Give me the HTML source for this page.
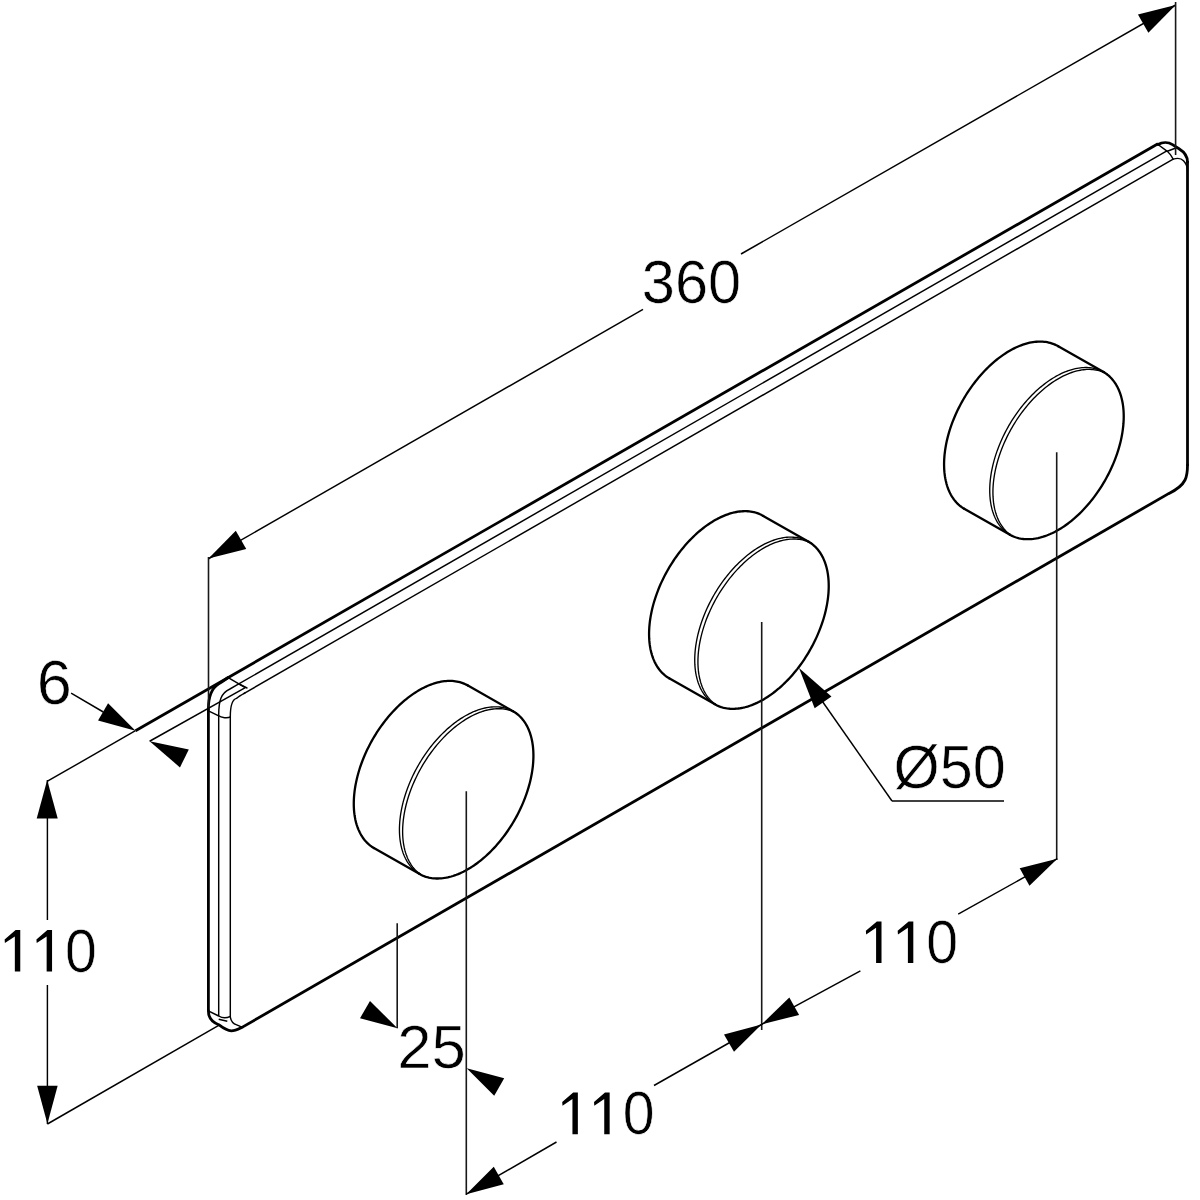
<!DOCTYPE html>
<html><head><meta charset="utf-8"><style>
html,body{margin:0;padding:0;background:#fff;}
svg{display:block;}
text{font-family:"Liberation Sans",sans-serif;fill:#000;}
</style></head><body>
<svg width="1200" height="1200" viewBox="0 0 1200 1200">
<rect width="1200" height="1200" fill="#fff"/>
<line x1="47.5" y1="781.23" x2="135.5" y2="730.72" stroke="#000" stroke-width="1.45"/>
<line x1="135.5" y1="730.72" x2="1158" y2="143.81" stroke="#000" stroke-width="2.8"/>
<line x1="237.9" y1="684.41" x2="1167.3" y2="150.66" stroke="#000" stroke-width="1.45"/>
<line x1="243.3" y1="693.85" x2="1173.2" y2="159.16" stroke="#000" stroke-width="1.45"/>
<line x1="208.4" y1="709" x2="208.4" y2="1011" stroke="#000" stroke-width="2.8"/>
<line x1="218.7" y1="715.3" x2="218.7" y2="1016" stroke="#000" stroke-width="1.45"/>
<line x1="230.3" y1="716.9" x2="230.3" y2="1017.2" stroke="#000" stroke-width="1.45"/>
<line x1="242" y1="1027.35" x2="1169" y2="493.4" stroke="#000" stroke-width="2.8"/>
<line x1="1187.5" y1="161" x2="1187.5" y2="466" stroke="#000" stroke-width="2.8"/>
<path d="M208.4,709 C208.4,697 212,688 218.7,683.9 C221.5,682 224,680.5 228.2,677.51" fill="none" stroke="#000" stroke-width="2.8" stroke-linecap="round"/>
<path d="M218.7,715.3 C218.7,701 221,693 229.5,689.24 L237.9,684.41" fill="none" stroke="#000" stroke-width="1.45" stroke-linecap="round"/>
<path d="M230.3,716.9 C230.3,707 232,699.5 236.5,698.36 C239,696.33 241,695.17 245,692.88" fill="none" stroke="#000" stroke-width="1.45" stroke-linecap="round"/>
<line x1="228.2" y1="677.51" x2="245.3" y2="687.6" stroke="#000" stroke-width="1.45"/>
<path d="M208.4,710.9 L218.7,715.8 C221,717.8 228,718.4 230.3,716.9" fill="none" stroke="#000" stroke-width="1.45" stroke-linecap="round"/>
<path d="M240,684.5 L247,688" fill="none" stroke="#000" stroke-width="1.45" stroke-linecap="round"/>
<path d="M1158,144.5 C1162,142.2 1168,141.6 1172.5,144.6 L1179,148.8 C1184.5,152.2 1187.5,156 1187.5,162" fill="none" stroke="#000" stroke-width="2.8" stroke-linecap="round"/>
<path d="M1158,144.5 L1167.3,151.3 C1170,153.5 1172,157 1173.2,159.16" fill="none" stroke="#000" stroke-width="1.45" stroke-linecap="round"/>
<line x1="1167.3" y1="151.2" x2="1176.5" y2="147.8" stroke="#000" stroke-width="1.45"/>
<path d="M1173.2,159.16 C1176,158.3 1181,158 1183.5,160.8 C1186,163.5 1187.5,166 1187.5,170" fill="none" stroke="#000" stroke-width="1.45" stroke-linecap="round"/>
<path d="M1169,493.4 C1177,489.5 1182,486 1185,480 C1187,476 1187.5,471 1187.5,465" fill="none" stroke="#000" stroke-width="2.8" stroke-linecap="round"/>
<path d="M208.4,1011 C208.4,1017 211.5,1022 218.7,1024.7 C223,1028 227,1030.8 231.3,1030.8 C235,1030.8 238.5,1029 242,1027.35" fill="none" stroke="#000" stroke-width="2.8" stroke-linecap="round"/>
<path d="M209.3,1011.3 L218.7,1016 C222,1018 227,1018 230.3,1016.3" fill="none" stroke="#000" stroke-width="1.45" stroke-linecap="round"/>
<path d="M230.3,1017.2 C231,1021 233.5,1024 236.7,1024.9 C238.5,1025.5 240,1026 242,1027.35" fill="none" stroke="#000" stroke-width="1.45" stroke-linecap="round"/>
<line x1="218.7" y1="1019.3" x2="227.3" y2="1021.3" stroke="#000" stroke-width="1.45"/>
<path d="M467.93,685.58 L466.66,684.87 L465.36,684.22 L464.02,683.63 L462.66,683.09 L461.27,682.61 L459.85,682.19 L458.41,681.83 L456.94,681.52 L455.45,681.28 L453.93,681.09 L452.39,680.96 L450.82,680.89 L449.24,680.88 L447.64,680.93 L446.02,681.03 L444.38,681.2 L442.73,681.42 L441.06,681.7 L439.37,682.04 L437.68,682.44 L435.97,682.9 L434.25,683.41 L432.53,683.99 L430.79,684.61 L429.05,685.3 L427.3,686.04 L425.55,686.83 L423.8,687.68 L422.04,688.59 L420.28,689.55 L418.53,690.56 L416.77,691.62 L415.02,692.74 L413.27,693.9 L411.53,695.12 L409.79,696.38 L408.06,697.69 L406.34,699.05 L404.63,700.46 L402.93,701.91 L401.25,703.41 L399.57,704.95 L397.91,706.53 L396.27,708.16 L394.64,709.82 L393.04,711.52 L391.45,713.26 L389.88,715.04 L388.33,716.86 L386.81,718.7 L385.3,720.58 L383.83,722.5 L382.37,724.44 L380.95,726.41 L379.55,728.41 L378.18,730.43 L376.84,732.48 L375.53,734.56 L374.25,736.65 L373,738.77 L371.79,740.91 L370.61,743.06 L369.46,745.23 L368.35,747.41 L367.27,749.61 L366.23,751.82 L365.23,754.04 L364.27,756.27 L363.35,758.51 L362.46,760.75 L361.62,762.99 L360.81,765.24 L360.05,767.49 L359.33,769.74 L358.65,771.99 L358.02,774.23 L357.42,776.47 L356.87,778.7 L356.37,780.92 L355.91,783.14 L355.49,785.34 L355.12,787.53 L354.79,789.7 L354.51,791.86 L354.27,794.01 L354.08,796.13 L353.94,798.24 L353.84,800.32 L353.78,802.38 L353.78,804.41 L353.82,806.42 L353.9,808.4 L354.03,810.36 L354.21,812.28 L354.43,814.17 L354.7,816.04 L355.01,817.86 L355.37,819.65 L355.78,821.41 L356.22,823.13 L356.72,824.81 L357.25,826.44 L357.83,828.04 L358.46,829.6 L359.12,831.11 L359.83,832.58 L360.58,834.01 L361.37,835.39 L362.21,836.72 L363.08,838 L363.99,839.24 L364.94,840.42 L365.93,841.55 L366.96,842.64 L368.02,843.67 L369.12,844.65 L370.26,845.57 L371.43,846.44 L372.64,847.26 L373.87,848.02" fill="none" stroke="#000" stroke-width="2.3" stroke-linejoin="round" stroke-linecap="round"/>
<path d="M467.93,685.58 L513.33,711.38" fill="none" stroke="#000" stroke-width="2.3" stroke-linejoin="round" stroke-linecap="round"/>
<path d="M373.87,848.02 L419.27,873.82" fill="none" stroke="#000" stroke-width="2.3" stroke-linejoin="round" stroke-linecap="round"/>
<path d="M513.33,711.38 L514.56,712.14 L515.77,712.96 L516.94,713.83 L518.08,714.75 L519.18,715.73 L520.24,716.76 L521.27,717.85 L522.26,718.98 L523.21,720.16 L524.12,721.4 L524.99,722.68 L525.83,724.01 L526.62,725.39 L527.37,726.82 L528.08,728.29 L528.74,729.8 L529.37,731.36 L529.95,732.96 L530.48,734.59 L530.98,736.27 L531.42,737.99 L531.83,739.75 L532.19,741.54 L532.5,743.36 L532.77,745.23 L532.99,747.12 L533.17,749.04 L533.3,751 L533.38,752.98 L533.42,754.99 L533.42,757.02 L533.36,759.08 L533.26,761.16 L533.12,763.27 L532.93,765.39 L532.69,767.54 L532.41,769.7 L532.08,771.87 L531.71,774.06 L531.29,776.26 L530.83,778.48 L530.33,780.7 L529.78,782.93 L529.18,785.17 L528.55,787.41 L527.87,789.66 L527.15,791.91 L526.39,794.16 L525.58,796.41 L524.74,798.65 L523.85,800.89 L522.93,803.13 L521.97,805.36 L520.97,807.58 L519.93,809.79 L518.85,811.99 L517.74,814.17 L516.59,816.34 L515.41,818.49 L514.2,820.63 L512.95,822.75 L511.67,824.84 L510.36,826.92 L509.02,828.97 L507.65,830.99 L506.25,832.99 L504.83,834.96 L503.37,836.9 L501.9,838.82 L500.39,840.7 L498.87,842.54 L497.32,844.36 L495.75,846.14 L494.16,847.88 L492.56,849.58 L490.93,851.24 L489.29,852.87 L487.63,854.45 L485.95,855.99 L484.27,857.49 L482.57,858.94 L480.86,860.35 L479.14,861.71 L477.41,863.02 L475.67,864.28 L473.93,865.5 L472.18,866.66 L470.43,867.78 L468.67,868.84 L466.92,869.85 L465.16,870.81 L463.4,871.72 L461.65,872.57 L459.9,873.36 L458.15,874.1 L456.41,874.79 L454.67,875.41 L452.95,875.99 L451.23,876.5 L449.52,876.96 L447.83,877.36 L446.14,877.7 L444.47,877.98 L442.82,878.2 L441.18,878.37 L439.56,878.47 L437.96,878.52 L436.38,878.51 L434.81,878.44 L433.27,878.31 L431.75,878.12 L430.26,877.88 L428.79,877.57 L427.35,877.21 L425.93,876.79 L424.54,876.31 L423.18,875.77 L421.84,875.18 L420.54,874.53 L419.27,873.82" fill="none" stroke="#000" stroke-width="2.3" stroke-linejoin="round" stroke-linecap="round"/>
<path d="M516.78,713.4 L515.51,712.69 L514.21,712.04 L512.88,711.45 L511.51,710.91 L510.12,710.43 L508.71,710.01 L507.26,709.65 L505.79,709.34 L504.3,709.1 L502.78,708.91 L501.24,708.78 L499.68,708.71 L498.09,708.7 L496.49,708.75 L494.87,708.85 L493.23,709.02 L491.58,709.24 L489.91,709.52 L488.23,709.87 L486.53,710.26 L484.82,710.72 L483.11,711.23 L481.38,711.81 L479.64,712.43 L477.9,713.12 L476.16,713.86 L474.4,714.65 L472.65,715.5 L470.89,716.41 L469.14,717.37 L467.38,718.38 L465.62,719.44 L463.87,720.56 L462.12,721.72 L460.38,722.94 L458.64,724.2 L456.91,725.51 L455.19,726.87 L453.48,728.28 L451.78,729.73 L450.1,731.23 L448.42,732.77 L446.77,734.35 L445.12,735.98 L443.5,737.64 L441.89,739.34 L440.3,741.09 L438.73,742.86 L437.18,744.68 L435.66,746.52 L434.16,748.4 L432.68,750.32 L431.23,752.26 L429.8,754.23 L428.4,756.23 L427.03,758.25 L425.69,760.3 L424.38,762.38 L423.1,764.47 L421.85,766.59 L420.64,768.73 L419.46,770.88 L418.31,773.05 L417.2,775.23 L416.13,777.43 L415.09,779.64 L414.09,781.86 L413.12,784.09 L412.2,786.33 L411.31,788.57 L410.47,790.81 L409.67,793.06 L408.9,795.31 L408.18,797.56 L407.5,799.81 L406.87,802.05 L406.27,804.29 L405.72,806.52 L405.22,808.74 L404.76,810.96 L404.34,813.16 L403.97,815.35 L403.64,817.53 L403.36,819.69 L403.12,821.83 L402.93,823.95 L402.79,826.06 L402.69,828.14 L402.64,830.2 L402.63,832.23 L402.67,834.24 L402.75,836.22 L402.89,838.18 L403.06,840.1 L403.28,842 L403.55,843.86 L403.87,845.68 L404.22,847.47 L404.63,849.23 L405.08,850.95 L405.57,852.63 L406.11,854.27 L406.69,855.86 L407.31,857.42 L407.98,858.93 L408.68,860.4 L409.43,861.83 L410.23,863.21 L411.06,864.54 L411.93,865.82 L412.84,867.06 L413.79,868.24 L414.78,869.38 L415.81,870.46 L416.88,871.49 L417.98,872.47 L419.11,873.39 L420.28,874.27 L421.49,875.08 L422.73,875.84" fill="none" stroke="#000" stroke-width="1.35" stroke-linejoin="round" stroke-linecap="round"/>
<path d="M513.59,711.53 L512.32,710.82 L511.01,710.17 L509.68,709.58 L508.32,709.04 L506.93,708.56 L505.51,708.14 L504.07,707.78 L502.6,707.48 L501.1,707.23 L499.59,707.04 L498.05,706.91 L496.48,706.84 L494.9,706.83 L493.3,706.88 L491.68,706.98 L490.04,707.15 L488.38,707.37 L486.71,707.66 L485.03,708 L483.34,708.4 L481.63,708.85 L479.91,709.37 L478.19,709.94 L476.45,710.56 L474.71,711.25 L472.96,711.99 L471.21,712.78 L469.46,713.64 L467.7,714.54 L465.94,715.5 L464.19,716.51 L462.43,717.57 L460.68,718.69 L458.93,719.85 L457.19,721.07 L455.45,722.33 L453.72,723.65 L452,725.01 L450.29,726.41 L448.59,727.87 L446.9,729.36 L445.23,730.9 L443.57,732.48 L441.93,734.11 L440.3,735.77 L438.69,737.48 L437.11,739.22 L435.54,740.99 L433.99,742.81 L432.46,744.65 L430.96,746.53 L429.48,748.45 L428.03,750.39 L426.61,752.36 L425.21,754.36 L423.84,756.38 L422.5,758.44 L421.19,760.51 L419.91,762.6 L418.66,764.72 L417.45,766.86 L416.27,769.01 L415.12,771.18 L414.01,773.37 L412.93,775.56 L411.89,777.77 L410.89,779.99 L409.93,782.22 L409.01,784.46 L408.12,786.7 L407.28,788.94 L406.47,791.19 L405.71,793.44 L404.99,795.69 L404.31,797.94 L403.67,800.18 L403.08,802.42 L402.53,804.65 L402.03,806.87 L401.56,809.09 L401.15,811.29 L400.78,813.48 L400.45,815.66 L400.17,817.82 L399.93,819.96 L399.74,822.08 L399.6,824.19 L399.5,826.27 L399.44,828.33 L399.44,830.36 L399.48,832.37 L399.56,834.36 L399.69,836.31 L399.87,838.23 L400.09,840.13 L400.36,841.99 L400.67,843.81 L401.03,845.6 L401.44,847.36 L401.88,849.08 L402.38,850.76 L402.91,852.4 L403.49,854 L404.12,855.55 L404.78,857.07 L405.49,858.53 L406.24,859.96 L407.03,861.34 L407.86,862.67 L408.74,863.95 L409.65,865.19 L410.6,866.37 L411.59,867.51 L412.62,868.59 L413.68,869.62 L414.78,870.6 L415.92,871.53 L417.09,872.4 L418.29,873.21 L419.53,873.97" fill="none" stroke="#000" stroke-width="1.35" stroke-linejoin="round" stroke-linecap="round"/>
<path d="M763.23,515.88 L761.96,515.17 L760.66,514.52 L759.32,513.93 L757.96,513.39 L756.57,512.91 L755.15,512.49 L753.71,512.13 L752.24,511.82 L750.75,511.58 L749.23,511.39 L747.69,511.26 L746.12,511.19 L744.54,511.18 L742.94,511.23 L741.32,511.33 L739.68,511.5 L738.03,511.72 L736.36,512 L734.67,512.34 L732.98,512.74 L731.27,513.2 L729.55,513.71 L727.83,514.29 L726.09,514.91 L724.35,515.6 L722.6,516.34 L720.85,517.13 L719.1,517.98 L717.34,518.89 L715.58,519.85 L713.83,520.86 L712.07,521.92 L710.32,523.04 L708.57,524.2 L706.83,525.42 L705.09,526.68 L703.36,527.99 L701.64,529.35 L699.93,530.76 L698.23,532.21 L696.55,533.71 L694.87,535.25 L693.21,536.83 L691.57,538.46 L689.94,540.12 L688.34,541.82 L686.75,543.56 L685.18,545.34 L683.63,547.16 L682.11,549 L680.6,550.88 L679.13,552.8 L677.67,554.74 L676.25,556.71 L674.85,558.71 L673.48,560.73 L672.14,562.78 L670.83,564.86 L669.55,566.95 L668.3,569.07 L667.09,571.21 L665.91,573.36 L664.76,575.53 L663.65,577.71 L662.57,579.91 L661.53,582.12 L660.53,584.34 L659.57,586.57 L658.65,588.81 L657.76,591.05 L656.92,593.29 L656.11,595.54 L655.35,597.79 L654.63,600.04 L653.95,602.29 L653.32,604.53 L652.72,606.77 L652.17,609 L651.67,611.22 L651.21,613.44 L650.79,615.64 L650.42,617.83 L650.09,620 L649.81,622.16 L649.57,624.31 L649.38,626.43 L649.24,628.54 L649.14,630.62 L649.08,632.68 L649.08,634.71 L649.12,636.72 L649.2,638.7 L649.33,640.66 L649.51,642.58 L649.73,644.47 L650,646.34 L650.31,648.16 L650.67,649.95 L651.08,651.71 L651.52,653.43 L652.02,655.11 L652.55,656.74 L653.13,658.34 L653.76,659.9 L654.42,661.41 L655.13,662.88 L655.88,664.31 L656.67,665.69 L657.51,667.02 L658.38,668.3 L659.29,669.54 L660.24,670.72 L661.23,671.85 L662.26,672.94 L663.32,673.97 L664.42,674.95 L665.56,675.87 L666.73,676.74 L667.94,677.56 L669.17,678.32" fill="none" stroke="#000" stroke-width="2.3" stroke-linejoin="round" stroke-linecap="round"/>
<path d="M763.23,515.88 L808.63,541.68" fill="none" stroke="#000" stroke-width="2.3" stroke-linejoin="round" stroke-linecap="round"/>
<path d="M669.17,678.32 L714.57,704.12" fill="none" stroke="#000" stroke-width="2.3" stroke-linejoin="round" stroke-linecap="round"/>
<path d="M808.63,541.68 L809.86,542.44 L811.07,543.26 L812.24,544.13 L813.38,545.05 L814.48,546.03 L815.54,547.06 L816.57,548.15 L817.56,549.28 L818.51,550.46 L819.42,551.7 L820.29,552.98 L821.13,554.31 L821.92,555.69 L822.67,557.12 L823.38,558.59 L824.04,560.1 L824.67,561.66 L825.25,563.26 L825.78,564.89 L826.28,566.57 L826.72,568.29 L827.13,570.05 L827.49,571.84 L827.8,573.66 L828.07,575.53 L828.29,577.42 L828.47,579.34 L828.6,581.3 L828.68,583.28 L828.72,585.29 L828.72,587.32 L828.66,589.38 L828.56,591.46 L828.42,593.57 L828.23,595.69 L827.99,597.84 L827.71,600 L827.38,602.17 L827.01,604.36 L826.59,606.56 L826.13,608.78 L825.63,611 L825.08,613.23 L824.48,615.47 L823.85,617.71 L823.17,619.96 L822.45,622.21 L821.69,624.46 L820.88,626.71 L820.04,628.95 L819.15,631.19 L818.23,633.43 L817.27,635.66 L816.27,637.88 L815.23,640.09 L814.15,642.29 L813.04,644.47 L811.89,646.64 L810.71,648.79 L809.5,650.93 L808.25,653.05 L806.97,655.14 L805.66,657.22 L804.32,659.27 L802.95,661.29 L801.55,663.29 L800.13,665.26 L798.67,667.2 L797.2,669.12 L795.69,671 L794.17,672.84 L792.62,674.66 L791.05,676.44 L789.46,678.18 L787.86,679.88 L786.23,681.54 L784.59,683.17 L782.93,684.75 L781.25,686.29 L779.57,687.79 L777.87,689.24 L776.16,690.65 L774.44,692.01 L772.71,693.32 L770.97,694.58 L769.23,695.8 L767.48,696.96 L765.73,698.08 L763.97,699.14 L762.22,700.15 L760.46,701.11 L758.7,702.02 L756.95,702.87 L755.2,703.66 L753.45,704.4 L751.71,705.09 L749.97,705.71 L748.25,706.29 L746.53,706.8 L744.82,707.26 L743.13,707.66 L741.44,708 L739.77,708.28 L738.12,708.5 L736.48,708.67 L734.86,708.77 L733.26,708.82 L731.68,708.81 L730.11,708.74 L728.57,708.61 L727.05,708.42 L725.56,708.18 L724.09,707.87 L722.65,707.51 L721.23,707.09 L719.84,706.61 L718.48,706.07 L717.14,705.48 L715.84,704.83 L714.57,704.12" fill="none" stroke="#000" stroke-width="2.3" stroke-linejoin="round" stroke-linecap="round"/>
<path d="M812.08,543.7 L810.81,542.99 L809.51,542.34 L808.18,541.75 L806.81,541.21 L805.42,540.73 L804.01,540.31 L802.56,539.95 L801.09,539.64 L799.6,539.4 L798.08,539.21 L796.54,539.08 L794.98,539.01 L793.39,539 L791.79,539.05 L790.17,539.15 L788.53,539.32 L786.88,539.54 L785.21,539.82 L783.53,540.17 L781.83,540.56 L780.12,541.02 L778.41,541.53 L776.68,542.11 L774.94,542.73 L773.2,543.42 L771.46,544.16 L769.7,544.95 L767.95,545.8 L766.19,546.71 L764.44,547.67 L762.68,548.68 L760.92,549.74 L759.17,550.86 L757.42,552.02 L755.68,553.24 L753.94,554.5 L752.21,555.81 L750.49,557.17 L748.78,558.58 L747.08,560.03 L745.4,561.53 L743.72,563.07 L742.07,564.65 L740.42,566.28 L738.8,567.94 L737.19,569.64 L735.6,571.39 L734.03,573.16 L732.48,574.98 L730.96,576.82 L729.46,578.7 L727.98,580.62 L726.53,582.56 L725.1,584.53 L723.7,586.53 L722.33,588.55 L720.99,590.6 L719.68,592.68 L718.4,594.77 L717.15,596.89 L715.94,599.03 L714.76,601.18 L713.61,603.35 L712.5,605.53 L711.43,607.73 L710.39,609.94 L709.39,612.16 L708.42,614.39 L707.5,616.63 L706.61,618.87 L705.77,621.11 L704.97,623.36 L704.2,625.61 L703.48,627.86 L702.8,630.11 L702.17,632.35 L701.57,634.59 L701.02,636.82 L700.52,639.04 L700.06,641.26 L699.64,643.46 L699.27,645.65 L698.94,647.83 L698.66,649.99 L698.42,652.13 L698.23,654.25 L698.09,656.36 L697.99,658.44 L697.94,660.5 L697.93,662.53 L697.97,664.54 L698.05,666.52 L698.19,668.48 L698.36,670.4 L698.58,672.3 L698.85,674.16 L699.17,675.98 L699.52,677.77 L699.93,679.53 L700.38,681.25 L700.87,682.93 L701.41,684.57 L701.99,686.16 L702.61,687.72 L703.28,689.23 L703.98,690.7 L704.73,692.13 L705.53,693.51 L706.36,694.84 L707.23,696.12 L708.14,697.36 L709.09,698.54 L710.08,699.68 L711.11,700.76 L712.18,701.79 L713.28,702.77 L714.41,703.69 L715.58,704.57 L716.79,705.38 L718.03,706.14" fill="none" stroke="#000" stroke-width="1.35" stroke-linejoin="round" stroke-linecap="round"/>
<path d="M808.89,541.83 L807.62,541.12 L806.31,540.47 L804.98,539.88 L803.62,539.34 L802.23,538.86 L800.81,538.44 L799.37,538.08 L797.9,537.78 L796.4,537.53 L794.89,537.34 L793.35,537.21 L791.78,537.14 L790.2,537.13 L788.6,537.18 L786.98,537.28 L785.34,537.45 L783.68,537.67 L782.01,537.96 L780.33,538.3 L778.64,538.7 L776.93,539.15 L775.21,539.67 L773.49,540.24 L771.75,540.86 L770.01,541.55 L768.26,542.29 L766.51,543.08 L764.76,543.94 L763,544.84 L761.24,545.8 L759.49,546.81 L757.73,547.87 L755.98,548.99 L754.23,550.15 L752.49,551.37 L750.75,552.63 L749.02,553.95 L747.3,555.31 L745.59,556.71 L743.89,558.17 L742.2,559.66 L740.53,561.2 L738.87,562.78 L737.23,564.41 L735.6,566.07 L733.99,567.78 L732.41,569.52 L730.84,571.29 L729.29,573.11 L727.76,574.95 L726.26,576.83 L724.78,578.75 L723.33,580.69 L721.91,582.66 L720.51,584.66 L719.14,586.68 L717.8,588.74 L716.49,590.81 L715.21,592.9 L713.96,595.02 L712.75,597.16 L711.57,599.31 L710.42,601.48 L709.31,603.67 L708.23,605.86 L707.19,608.07 L706.19,610.29 L705.23,612.52 L704.31,614.76 L703.42,617 L702.58,619.24 L701.77,621.49 L701.01,623.74 L700.29,625.99 L699.61,628.24 L698.97,630.48 L698.38,632.72 L697.83,634.95 L697.33,637.17 L696.86,639.39 L696.45,641.59 L696.08,643.78 L695.75,645.96 L695.47,648.12 L695.23,650.26 L695.04,652.38 L694.9,654.49 L694.8,656.57 L694.74,658.63 L694.74,660.66 L694.78,662.67 L694.86,664.66 L694.99,666.61 L695.17,668.53 L695.39,670.43 L695.66,672.29 L695.97,674.11 L696.33,675.9 L696.74,677.66 L697.18,679.38 L697.68,681.06 L698.21,682.7 L698.79,684.3 L699.42,685.85 L700.08,687.37 L700.79,688.83 L701.54,690.26 L702.33,691.64 L703.16,692.97 L704.04,694.25 L704.95,695.49 L705.9,696.67 L706.89,697.81 L707.92,698.89 L708.98,699.92 L710.08,700.9 L711.22,701.83 L712.39,702.7 L713.59,703.51 L714.83,704.27" fill="none" stroke="#000" stroke-width="1.35" stroke-linejoin="round" stroke-linecap="round"/>
<path d="M1058.23,346.28 L1056.96,345.57 L1055.66,344.92 L1054.32,344.33 L1052.96,343.79 L1051.57,343.31 L1050.15,342.89 L1048.71,342.53 L1047.24,342.22 L1045.75,341.98 L1044.23,341.79 L1042.69,341.66 L1041.12,341.59 L1039.54,341.58 L1037.94,341.63 L1036.32,341.73 L1034.68,341.9 L1033.03,342.12 L1031.36,342.4 L1029.67,342.74 L1027.98,343.14 L1026.27,343.6 L1024.55,344.11 L1022.83,344.69 L1021.09,345.31 L1019.35,346 L1017.6,346.74 L1015.85,347.53 L1014.1,348.38 L1012.34,349.29 L1010.58,350.25 L1008.83,351.26 L1007.07,352.32 L1005.32,353.44 L1003.57,354.6 L1001.83,355.82 L1000.09,357.08 L998.36,358.39 L996.64,359.75 L994.93,361.16 L993.23,362.61 L991.55,364.11 L989.87,365.65 L988.21,367.23 L986.57,368.86 L984.94,370.52 L983.34,372.22 L981.75,373.96 L980.18,375.74 L978.63,377.56 L977.11,379.4 L975.6,381.28 L974.13,383.2 L972.67,385.14 L971.25,387.11 L969.85,389.11 L968.48,391.13 L967.14,393.18 L965.83,395.26 L964.55,397.35 L963.3,399.47 L962.09,401.61 L960.91,403.76 L959.76,405.93 L958.65,408.11 L957.57,410.31 L956.53,412.52 L955.53,414.74 L954.57,416.97 L953.65,419.21 L952.76,421.45 L951.92,423.69 L951.11,425.94 L950.35,428.19 L949.63,430.44 L948.95,432.69 L948.32,434.93 L947.72,437.17 L947.17,439.4 L946.67,441.62 L946.21,443.84 L945.79,446.04 L945.42,448.23 L945.09,450.4 L944.81,452.56 L944.57,454.71 L944.38,456.83 L944.24,458.94 L944.14,461.02 L944.08,463.08 L944.08,465.11 L944.12,467.12 L944.2,469.1 L944.33,471.06 L944.51,472.98 L944.73,474.87 L945,476.74 L945.31,478.56 L945.67,480.35 L946.08,482.11 L946.52,483.83 L947.02,485.51 L947.55,487.14 L948.13,488.74 L948.76,490.3 L949.42,491.81 L950.13,493.28 L950.88,494.71 L951.67,496.09 L952.51,497.42 L953.38,498.7 L954.29,499.94 L955.24,501.12 L956.23,502.25 L957.26,503.34 L958.32,504.37 L959.42,505.35 L960.56,506.27 L961.73,507.14 L962.94,507.96 L964.17,508.72" fill="none" stroke="#000" stroke-width="2.3" stroke-linejoin="round" stroke-linecap="round"/>
<path d="M1058.23,346.28 L1103.63,372.08" fill="none" stroke="#000" stroke-width="2.3" stroke-linejoin="round" stroke-linecap="round"/>
<path d="M964.17,508.72 L1009.57,534.52" fill="none" stroke="#000" stroke-width="2.3" stroke-linejoin="round" stroke-linecap="round"/>
<path d="M1103.63,372.08 L1104.86,372.84 L1106.07,373.66 L1107.24,374.53 L1108.38,375.45 L1109.48,376.43 L1110.54,377.46 L1111.57,378.55 L1112.56,379.68 L1113.51,380.86 L1114.42,382.1 L1115.29,383.38 L1116.13,384.71 L1116.92,386.09 L1117.67,387.52 L1118.38,388.99 L1119.04,390.5 L1119.67,392.06 L1120.25,393.66 L1120.78,395.29 L1121.28,396.97 L1121.72,398.69 L1122.13,400.45 L1122.49,402.24 L1122.8,404.06 L1123.07,405.93 L1123.29,407.82 L1123.47,409.74 L1123.6,411.7 L1123.68,413.68 L1123.72,415.69 L1123.72,417.72 L1123.66,419.78 L1123.56,421.86 L1123.42,423.97 L1123.23,426.09 L1122.99,428.24 L1122.71,430.4 L1122.38,432.57 L1122.01,434.76 L1121.59,436.96 L1121.13,439.18 L1120.63,441.4 L1120.08,443.63 L1119.48,445.87 L1118.85,448.11 L1118.17,450.36 L1117.45,452.61 L1116.69,454.86 L1115.88,457.11 L1115.04,459.35 L1114.15,461.59 L1113.23,463.83 L1112.27,466.06 L1111.27,468.28 L1110.23,470.49 L1109.15,472.69 L1108.04,474.87 L1106.89,477.04 L1105.71,479.19 L1104.5,481.33 L1103.25,483.45 L1101.97,485.54 L1100.66,487.62 L1099.32,489.67 L1097.95,491.69 L1096.55,493.69 L1095.13,495.66 L1093.67,497.6 L1092.2,499.52 L1090.69,501.4 L1089.17,503.24 L1087.62,505.06 L1086.05,506.84 L1084.46,508.58 L1082.86,510.28 L1081.23,511.94 L1079.59,513.57 L1077.93,515.15 L1076.25,516.69 L1074.57,518.19 L1072.87,519.64 L1071.16,521.05 L1069.44,522.41 L1067.71,523.72 L1065.97,524.98 L1064.23,526.2 L1062.48,527.36 L1060.73,528.48 L1058.97,529.54 L1057.22,530.55 L1055.46,531.51 L1053.7,532.42 L1051.95,533.27 L1050.2,534.06 L1048.45,534.8 L1046.71,535.49 L1044.97,536.11 L1043.25,536.69 L1041.53,537.2 L1039.82,537.66 L1038.13,538.06 L1036.44,538.4 L1034.77,538.68 L1033.12,538.9 L1031.48,539.07 L1029.86,539.17 L1028.26,539.22 L1026.68,539.21 L1025.11,539.14 L1023.57,539.01 L1022.05,538.82 L1020.56,538.58 L1019.09,538.27 L1017.65,537.91 L1016.23,537.49 L1014.84,537.01 L1013.48,536.47 L1012.14,535.88 L1010.84,535.23 L1009.57,534.52" fill="none" stroke="#000" stroke-width="2.3" stroke-linejoin="round" stroke-linecap="round"/>
<path d="M1107.08,374.1 L1105.81,373.39 L1104.51,372.74 L1103.18,372.15 L1101.81,371.61 L1100.42,371.13 L1099.01,370.71 L1097.56,370.35 L1096.09,370.04 L1094.6,369.8 L1093.08,369.61 L1091.54,369.48 L1089.98,369.41 L1088.39,369.4 L1086.79,369.45 L1085.17,369.55 L1083.53,369.72 L1081.88,369.94 L1080.21,370.22 L1078.53,370.57 L1076.83,370.96 L1075.12,371.42 L1073.41,371.93 L1071.68,372.51 L1069.94,373.13 L1068.2,373.82 L1066.46,374.56 L1064.7,375.35 L1062.95,376.2 L1061.19,377.11 L1059.44,378.07 L1057.68,379.08 L1055.92,380.14 L1054.17,381.26 L1052.42,382.42 L1050.68,383.64 L1048.94,384.9 L1047.21,386.21 L1045.49,387.57 L1043.78,388.98 L1042.08,390.43 L1040.4,391.93 L1038.72,393.47 L1037.07,395.05 L1035.42,396.68 L1033.8,398.34 L1032.19,400.04 L1030.6,401.79 L1029.03,403.56 L1027.48,405.38 L1025.96,407.22 L1024.46,409.1 L1022.98,411.02 L1021.53,412.96 L1020.1,414.93 L1018.7,416.93 L1017.33,418.95 L1015.99,421 L1014.68,423.08 L1013.4,425.17 L1012.15,427.29 L1010.94,429.43 L1009.76,431.58 L1008.61,433.75 L1007.5,435.93 L1006.43,438.13 L1005.39,440.34 L1004.39,442.56 L1003.42,444.79 L1002.5,447.03 L1001.61,449.27 L1000.77,451.51 L999.97,453.76 L999.2,456.01 L998.48,458.26 L997.8,460.51 L997.17,462.75 L996.57,464.99 L996.02,467.22 L995.52,469.44 L995.06,471.66 L994.64,473.86 L994.27,476.05 L993.94,478.23 L993.66,480.39 L993.42,482.53 L993.23,484.65 L993.09,486.76 L992.99,488.84 L992.94,490.9 L992.93,492.93 L992.97,494.94 L993.05,496.92 L993.19,498.88 L993.36,500.8 L993.58,502.7 L993.85,504.56 L994.17,506.38 L994.52,508.17 L994.93,509.93 L995.38,511.65 L995.87,513.33 L996.41,514.97 L996.99,516.56 L997.61,518.12 L998.28,519.63 L998.98,521.1 L999.73,522.53 L1000.53,523.91 L1001.36,525.24 L1002.23,526.52 L1003.14,527.76 L1004.09,528.94 L1005.08,530.08 L1006.11,531.16 L1007.18,532.19 L1008.28,533.17 L1009.41,534.09 L1010.58,534.97 L1011.79,535.78 L1013.03,536.54" fill="none" stroke="#000" stroke-width="1.35" stroke-linejoin="round" stroke-linecap="round"/>
<path d="M1103.89,372.23 L1102.62,371.52 L1101.31,370.87 L1099.98,370.28 L1098.62,369.74 L1097.23,369.26 L1095.81,368.84 L1094.37,368.48 L1092.9,368.18 L1091.4,367.93 L1089.89,367.74 L1088.35,367.61 L1086.78,367.54 L1085.2,367.53 L1083.6,367.58 L1081.98,367.68 L1080.34,367.85 L1078.68,368.07 L1077.01,368.36 L1075.33,368.7 L1073.64,369.1 L1071.93,369.55 L1070.21,370.07 L1068.49,370.64 L1066.75,371.26 L1065.01,371.95 L1063.26,372.69 L1061.51,373.48 L1059.76,374.34 L1058,375.24 L1056.24,376.2 L1054.49,377.21 L1052.73,378.27 L1050.98,379.39 L1049.23,380.55 L1047.49,381.77 L1045.75,383.03 L1044.02,384.35 L1042.3,385.71 L1040.59,387.11 L1038.89,388.57 L1037.2,390.06 L1035.53,391.6 L1033.87,393.18 L1032.23,394.81 L1030.6,396.47 L1028.99,398.18 L1027.41,399.92 L1025.84,401.69 L1024.29,403.51 L1022.76,405.35 L1021.26,407.23 L1019.78,409.15 L1018.33,411.09 L1016.91,413.06 L1015.51,415.06 L1014.14,417.08 L1012.8,419.14 L1011.49,421.21 L1010.21,423.3 L1008.96,425.42 L1007.75,427.56 L1006.57,429.71 L1005.42,431.88 L1004.31,434.07 L1003.23,436.26 L1002.19,438.47 L1001.19,440.69 L1000.23,442.92 L999.31,445.16 L998.42,447.4 L997.58,449.64 L996.77,451.89 L996.01,454.14 L995.29,456.39 L994.61,458.64 L993.97,460.88 L993.38,463.12 L992.83,465.35 L992.33,467.57 L991.86,469.79 L991.45,471.99 L991.08,474.18 L990.75,476.36 L990.47,478.52 L990.23,480.66 L990.04,482.78 L989.9,484.89 L989.8,486.97 L989.74,489.03 L989.74,491.06 L989.78,493.07 L989.86,495.06 L989.99,497.01 L990.17,498.93 L990.39,500.83 L990.66,502.69 L990.97,504.51 L991.33,506.3 L991.74,508.06 L992.18,509.78 L992.68,511.46 L993.21,513.1 L993.79,514.7 L994.42,516.25 L995.08,517.77 L995.79,519.23 L996.54,520.66 L997.33,522.04 L998.16,523.37 L999.04,524.65 L999.95,525.89 L1000.9,527.07 L1001.89,528.21 L1002.92,529.29 L1003.98,530.32 L1005.08,531.3 L1006.22,532.23 L1007.39,533.1 L1008.59,533.91 L1009.83,534.67" fill="none" stroke="#000" stroke-width="1.35" stroke-linejoin="round" stroke-linecap="round"/>
<line x1="208.5" y1="558.75" x2="643" y2="309.3" stroke="#000" stroke-width="1.45"/>
<line x1="741" y1="254" x2="1175.7" y2="5" stroke="#000" stroke-width="1.45"/>
<path d="M208.5,558.6 L235.79,530.82 L246.25,549.02 Z" fill="#000"/>
<path d="M1175.7,5 L1148.37,32.75 L1137.94,14.52 Z" fill="#000"/>
<line x1="208.5" y1="557" x2="208.5" y2="709" stroke="#181818" stroke-width="1.6"/>
<line x1="1175.6" y1="2" x2="1175.6" y2="155" stroke="#181818" stroke-width="1.6"/>
<g transform="translate(641.75,303.2) scale(0.961,1)"><text x="0" y="0" font-size="62.0" stroke="#fff" stroke-width="0.6">360</text></g>
<line x1="71.1" y1="693.2" x2="103.3" y2="712" stroke="#000" stroke-width="1.45"/>
<path d="M135.5,730.7 L98.05,720.53 L108.09,703.23 Z" fill="#000"/>
<path d="M149.6,741.25 L188.82,749.46 L179.96,767.4 Z" fill="#000"/>
<line x1="149.6" y1="741.25" x2="245.3" y2="687.6" stroke="#000" stroke-width="1.45"/>
<g transform="translate(36.65,704.4) scale(1.0,1)"><text x="0" y="0" font-size="63.0" stroke="#fff" stroke-width="0.6">6</text></g>
<line x1="47.4" y1="780" x2="47.4" y2="920" stroke="#000" stroke-width="1.45"/>
<line x1="47.4" y1="985" x2="47.4" y2="1124" stroke="#000" stroke-width="1.45"/>
<path d="M47.2,780 L57.7,818.4 L36.7,818.4 Z" fill="#000"/>
<path d="M47.4,1123.75 L37.15,1085.75 L57.65,1085.75 Z" fill="#000"/>
<line x1="47.4" y1="1124" x2="218.7" y2="1025.3" stroke="#000" stroke-width="1.45"/>
<g transform="translate(1.5,971.6) scale(0.945,1)"><text x="0" y="0" font-size="60.5" stroke="#fff" stroke-width="0.6"><tspan fill="transparent">1</tspan><tspan fill="transparent">1</tspan>0</text><path d="M14.12,0 L14.12,-35.15 L3.6,-28.51 L3.31,-32.2 L14.92,-41.62 L19.85,-41.62 L19.85,0 Z" fill="#000"/><path d="M47.77,0 L47.77,-35.15 L37.25,-28.51 L36.96,-32.2 L48.57,-41.62 L53.5,-41.62 L53.5,0 Z" fill="#000"/></g>
<line x1="466.3" y1="791.3" x2="466.3" y2="1195" stroke="#181818" stroke-width="1.6"/>
<line x1="761.7" y1="621.9" x2="761.7" y2="1030" stroke="#181818" stroke-width="1.6"/>
<line x1="1056.7" y1="452.3" x2="1056.7" y2="860" stroke="#181818" stroke-width="1.6"/>
<line x1="397.2" y1="923.3" x2="397.2" y2="1028.3" stroke="#181818" stroke-width="1.6"/>
<path d="M397.5,1028.3 L360,1018.29 L369.97,1000.95 Z" fill="#000"/>
<path d="M466.7,1068.3 L504.2,1078.31 L494.23,1095.65 Z" fill="#000"/>
<g transform="translate(397.15,1068.2) scale(1.02,1)"><text x="0" y="0" font-size="60.5" stroke="#fff" stroke-width="0.6">25</text></g>
<line x1="466.25" y1="1194.2" x2="556.5" y2="1142" stroke="#000" stroke-width="1.45"/>
<line x1="654" y1="1085.5" x2="761.5" y2="1024.5" stroke="#000" stroke-width="1.45"/>
<path d="M466.25,1194.2 L493.78,1166.85 L503.75,1184.19 Z" fill="#000"/>
<path d="M761.5,1024.5 L733.97,1051.85 L724,1034.51 Z" fill="#000"/>
<g transform="translate(559.1,1134.2) scale(0.945,1)"><text x="0" y="0" font-size="60.5" stroke="#fff" stroke-width="0.6"><tspan fill="transparent">1</tspan><tspan fill="transparent">1</tspan>0</text><path d="M14.12,0 L14.12,-35.15 L3.6,-28.51 L3.31,-32.2 L14.92,-41.62 L19.85,-41.62 L19.85,0 Z" fill="#000"/><path d="M47.77,0 L47.77,-35.15 L37.25,-28.51 L36.96,-32.2 L48.57,-41.62 L53.5,-41.62 L53.5,0 Z" fill="#000"/></g>
<line x1="761.5" y1="1024.5" x2="860.4" y2="970.8" stroke="#000" stroke-width="1.45"/>
<line x1="958.2" y1="914.2" x2="1057.3" y2="858.7" stroke="#000" stroke-width="1.45"/>
<path d="M761.5,1024.5 L789.33,997.45 L799.11,1014.9 Z" fill="#000"/>
<path d="M1057.3,858.7 L1029.47,885.75 L1019.69,868.3 Z" fill="#000"/>
<g transform="translate(862.75,963) scale(0.945,1)"><text x="0" y="0" font-size="60.5" stroke="#fff" stroke-width="0.6"><tspan fill="transparent">1</tspan><tspan fill="transparent">1</tspan>0</text><path d="M14.12,0 L14.12,-35.15 L3.6,-28.51 L3.31,-32.2 L14.92,-41.62 L19.85,-41.62 L19.85,0 Z" fill="#000"/><path d="M47.77,0 L47.77,-35.15 L37.25,-28.51 L36.96,-32.2 L48.57,-41.62 L53.5,-41.62 L53.5,0 Z" fill="#000"/></g>
<path d="M799,668 L831.46,696.56 L814.66,708.3 Z" fill="#000"/>
<line x1="820" y1="698" x2="892" y2="801" stroke="#000" stroke-width="1.45"/>
<line x1="892" y1="801" x2="1004" y2="801" stroke="#000" stroke-width="1.45"/>
<g transform="translate(893.5,788) scale(0.973,1)"><text x="0" y="0" font-size="61.0" stroke="#fff" stroke-width="0.6">Ø50</text></g>
</svg></body></html>
